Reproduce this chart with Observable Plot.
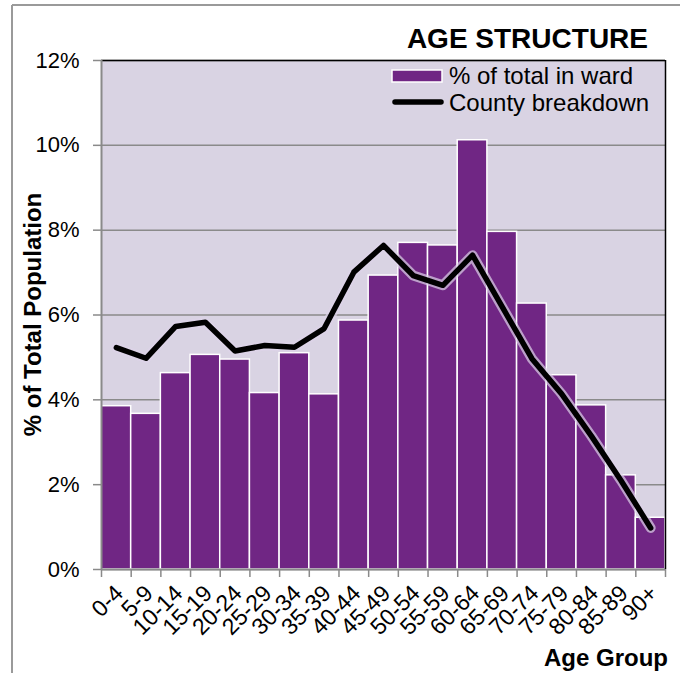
<!DOCTYPE html>
<html>
<head>
<meta charset="utf-8">
<script src="https://cdn.jsdelivr.net/npm/d3@7"></script>
<script src="https://cdn.jsdelivr.net/npm/@observablehq/plot@0.6"></script>
<style>
  html, body { margin: 0; padding: 0; background: #ffffff; }
  #chart { width: 680px; height: 673px; position: relative; }
</style>
</head>
<body>
<div id="chart"></div>
<script>
// ---- data ----
const categories = ["0-4","5-9","10-14","15-19","20-24","25-29","30-34","35-39","40-44","45-49","50-54","55-59","60-64","65-69","70-74","75-79","80-84","85-89","90+"];
const wardPct   = [3.85, 3.67, 4.63, 5.06, 4.95, 4.16, 5.10, 4.13, 5.87, 6.93, 7.70, 7.64, 10.12, 7.96, 6.27, 4.58, 3.87, 2.22, 1.22];
const countyPct = [5.23, 4.98, 5.73, 5.83, 5.15, 5.28, 5.24, 5.68, 7.01, 7.64, 6.93, 6.70, 7.41, 6.19, 4.97, 4.14, 3.15, 2.10, 0.98];
const yTicks = [0, 2, 4, 6, 8, 10, 12];

const titleText = "AGE STRUCTURE";
const legendWard = "% of total in ward";
const legendCounty = "County breakdown";
const yLabel = "% of Total Population";
const xLabel = "Age Group";

const rows = categories.map((c, i) => ({age: c, i, ward: wardPct[i], county: countyPct[i]}));

const FONT = "'Liberation Sans', Arial, Helvetica, sans-serif";
const PURPLE = "#702684";
const BG = "#d9d3e3";

const chart = Plot.plot({
  width: 680,
  height: 673,
  marginLeft: 101,
  marginRight: 15,
  marginTop: 60,
  marginBottom: 104,
  x: {type: "linear", domain: [0, categories.length], axis: null},
  y: {domain: [0, 12], axis: null},
  style: {fontFamily: FONT, background: "transparent", overflow: "visible", color: "black"},
  marks: [
    Plot.frame({fill: BG, stroke: null}),
    Plot.gridY(yTicks, {stroke: "#8a8a8a", strokeOpacity: 1, strokeWidth: 1.5}),
    Plot.rectY(rows, {x1: "i", x2: d => d.i + 1, y: "ward", fill: PURPLE, stroke: "white", strokeWidth: 1.5}),
    Plot.line(rows, {x: d => d.i + 0.5, y: "county", stroke: "#ddd3e8", strokeOpacity: 0.7, strokeWidth: 10, strokeLinejoin: "round", strokeLinecap: "round"}),
    Plot.line(rows, {x: d => d.i + 0.5, y: "county", stroke: "black", strokeWidth: 5.5, strokeLinejoin: "round", strokeLinecap: "round"}),
    Plot.ruleY([0], {stroke: "#8a8a8a", strokeWidth: 2}),
    Plot.ruleY([12], {stroke: "black", strokeWidth: 1.5}),
    Plot.ruleX([0], {stroke: "#8a8a8a", strokeWidth: 2}),
    Plot.ruleX([categories.length], {stroke: "black", strokeWidth: 1.5}),
    Plot.axisY({ticks: yTicks, tickFormat: d => d + "%", tickSize: 8, tickPadding: 14, fontSize: 22, stroke: "#8a8a8a", strokeWidth: 1.5, fill: "black", label: null}),
    Plot.axisX({ticks: d3.range(categories.length + 1), tickSize: 8, tickFormat: () => "", stroke: "#8a8a8a", strokeWidth: 1.5, label: null}),
    Plot.axisX({ticks: categories.map((c, i) => i + 0.5), tickSize: 0, tickPadding: 20, dx: 3, tickRotate: -45, tickFormat: v => categories[Math.floor(v)], fontSize: 23, fill: "black", label: null})
  ]
});

document.getElementById("chart").appendChild(chart);

// ---- decorations: outer frame, title, legend, axis titles ----
const svg = d3.select(chart);
svg.append("line").attr("x1", 12).attr("y1", 5).attr("x2", 12).attr("y2", 673).attr("stroke", "#9a9a9a").attr("stroke-width", 2);
svg.append("line").attr("x1", 12).attr("y1", 5).attr("x2", 680).attr("y2", 5).attr("stroke", "#9a9a9a").attr("stroke-width", 2);

svg.append("text").text(titleText)
  .attr("x", 648).attr("y", 48).attr("text-anchor", "end")
  .attr("font-family", FONT).attr("font-weight", "bold").attr("font-size", 28).attr("fill", "black");

// legend
svg.append("rect").attr("x", 392).attr("y", 70).attr("width", 50).attr("height", 12)
  .attr("fill", PURPLE).attr("stroke", "white").attr("stroke-width", 1.5);
svg.append("text").text(legendWard).attr("x", 449).attr("y", 84).attr("text-anchor", "start")
  .attr("font-family", FONT).attr("font-size", 24).attr("fill", "black");
svg.append("line").attr("x1", 395).attr("y1", 102).attr("x2", 441).attr("y2", 102)
  .attr("stroke", "black").attr("stroke-width", 5.5).attr("stroke-linecap", "round");
svg.append("text").text(legendCounty).attr("x", 449).attr("y", 111).attr("text-anchor", "start")
  .attr("font-family", FONT).attr("font-size", 24).attr("fill", "black");

// axis titles
svg.append("text").text(yLabel)
  .attr("transform", "translate(41,314.5) rotate(-90)").attr("text-anchor", "middle")
  .attr("font-family", FONT).attr("font-weight", "bold").attr("font-size", 24).attr("fill", "black");
svg.append("text").text(xLabel)
  .attr("x", 668).attr("y", 666).attr("text-anchor", "end")
  .attr("font-family", FONT).attr("font-weight", "bold").attr("font-size", 24).attr("fill", "black");
</script>
</body>
</html>
